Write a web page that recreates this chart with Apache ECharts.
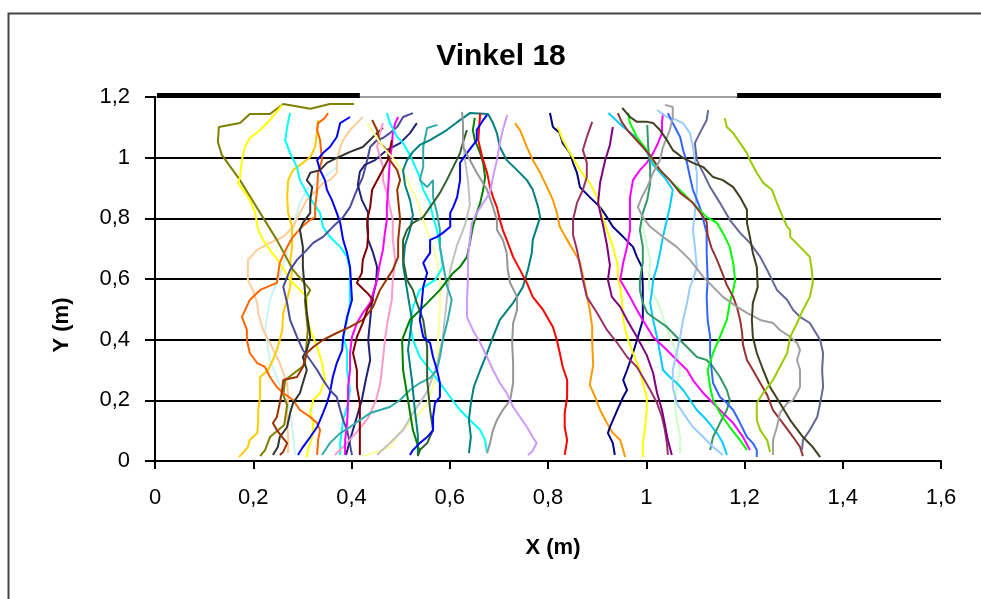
<!DOCTYPE html>
<html>
<head>
<meta charset="utf-8">
<script src="https://cdn.jsdelivr.net/npm/echarts@6/dist/echarts.min.js"></script>
<style>
  html, body { margin: 0; padding: 0; background: #fff; }
  #chart { width: 981px; height: 599px; }
</style>
</head>
<body>
<div id="chart"></div>
<script>
// Walking trajectories, X and Y in metres
const chartTitle = 'Vinkel 18';
const xTicks = [0, 0.2, 0.4, 0.6, 0.8, 1.0, 1.2, 1.4, 1.6];
const yTicks = [0, 0.2, 0.4, 0.6, 0.8, 1.0, 1.2];

// Wall segments at the top edge (openings between them)
const wallLeft = [[0.004, 1.21], [0.417, 1.21]];
const wallRight = [[1.185, 1.21], [1.6, 1.21]];

const pathOlive = [[0.405,1.177],[0.356,1.177],[0.316,1.161],[0.261,1.177],[0.234,1.144],[0.193,1.144],[0.173,1.114],[0.130,1.101],[0.128,1.052],[0.136,1.009],[0.173,0.926],[0.214,0.818],[0.248,0.729],[0.281,0.630],[0.316,0.564],[0.305,0.531],[0.311,0.432],[0.305,0.317],[0.265,0.267],[0.261,0.218],[0.269,0.185],[0.263,0.119],[0.234,0.079],[0.224,0.036],[0.214,0.016]];
const pathYellow = [[0.259,1.174],[0.234,1.124],[0.214,1.091],[0.193,1.065],[0.183,1.035],[0.177,0.992],[0.173,0.936],[0.169,0.917],[0.179,0.894],[0.193,0.861],[0.204,0.818],[0.210,0.762],[0.220,0.729],[0.234,0.696],[0.254,0.653],[0.275,0.597],[0.289,0.574],[0.309,0.541],[0.309,0.488],[0.316,0.432],[0.330,0.376],[0.340,0.323],[0.346,0.267],[0.336,0.224],[0.322,0.201],[0.316,0.158],[0.322,0.125],[0.320,0.079],[0.311,0.036],[0.309,0.013]];
const pathGold = [[0.171,0.013],[0.189,0.046],[0.193,0.069],[0.208,0.092],[0.210,0.125],[0.210,0.168],[0.214,0.211],[0.214,0.277],[0.230,0.300],[0.240,0.333],[0.248,0.366],[0.254,0.399],[0.259,0.432],[0.261,0.488],[0.269,0.531],[0.275,0.574],[0.279,0.630],[0.275,0.653],[0.279,0.706],[0.279,0.772],[0.271,0.818],[0.269,0.870],[0.271,0.926],[0.281,0.959],[0.301,0.983],[0.316,1.002],[0.326,1.035],[0.330,1.091],[0.332,1.124]];
const pathCyanA = [[0.275,1.147],[0.269,1.101],[0.265,1.058],[0.275,1.015],[0.289,0.969],[0.295,0.926],[0.309,0.884],[0.322,0.851],[0.336,0.818],[0.342,0.772],[0.356,0.739],[0.377,0.706],[0.391,0.673],[0.397,0.630],[0.397,0.521],[0.391,0.465],[0.383,0.409],[0.391,0.366],[0.391,0.300],[0.397,0.234],[0.393,0.191],[0.383,0.135],[0.377,0.059],[0.377,0.020]];
const pathOrangeA = [[0.352,1.147],[0.346,1.131],[0.332,1.114],[0.330,1.091],[0.336,1.058],[0.340,0.992],[0.332,0.950],[0.330,0.894],[0.326,0.837],[0.326,0.804],[0.316,0.795],[0.299,0.772],[0.281,0.739],[0.269,0.706],[0.254,0.653],[0.248,0.587],[0.214,0.564],[0.193,0.531],[0.177,0.475],[0.187,0.432],[0.187,0.399],[0.193,0.356],[0.208,0.323],[0.224,0.310],[0.234,0.277],[0.248,0.244],[0.261,0.224],[0.281,0.201],[0.295,0.168],[0.316,0.145],[0.330,0.125],[0.336,0.102],[0.332,0.069],[0.330,0.020]];
const pathTan = [[0.423,1.134],[0.411,1.114],[0.397,1.091],[0.383,1.058],[0.377,1.035],[0.370,0.983],[0.370,0.950],[0.356,0.926],[0.342,0.917],[0.330,0.894],[0.309,0.861],[0.295,0.818],[0.281,0.772],[0.261,0.739],[0.234,0.719],[0.208,0.696],[0.189,0.663],[0.189,0.597],[0.199,0.564],[0.208,0.521],[0.210,0.488],[0.220,0.432],[0.234,0.389],[0.244,0.356],[0.254,0.323],[0.261,0.290],[0.269,0.257],[0.271,0.211],[0.269,0.168],[0.269,0.125],[0.271,0.079],[0.271,0.026]];
const pathBlueA = [[0.397,1.134],[0.377,1.114],[0.370,1.068],[0.356,1.035],[0.342,1.015],[0.330,0.992],[0.336,0.959],[0.346,0.926],[0.350,0.894],[0.360,0.861],[0.370,0.818],[0.377,0.785],[0.383,0.729],[0.391,0.686],[0.397,0.640],[0.401,0.531],[0.391,0.475],[0.383,0.409],[0.381,0.366],[0.370,0.323],[0.362,0.277],[0.356,0.224],[0.350,0.191],[0.342,0.158],[0.330,0.112],[0.316,0.079],[0.301,0.046],[0.291,0.020]];
const pathBlack = [[0.464,1.098],[0.452,1.081],[0.423,1.035],[0.397,1.019],[0.370,0.999],[0.350,0.983],[0.336,0.959],[0.316,0.950],[0.309,0.926],[0.320,0.903],[0.316,0.861],[0.316,0.818],[0.301,0.785],[0.295,0.762],[0.301,0.706],[0.301,0.640],[0.305,0.564],[0.309,0.488],[0.316,0.409],[0.309,0.366],[0.301,0.343],[0.309,0.300],[0.301,0.257],[0.295,0.224],[0.281,0.191],[0.275,0.158],[0.269,0.112],[0.254,0.079],[0.250,0.046],[0.240,0.020]];
const pathIndigo = [[0.525,1.147],[0.505,1.134],[0.493,1.101],[0.478,1.081],[0.464,1.065],[0.452,1.058],[0.438,1.035],[0.432,0.992],[0.423,0.936],[0.411,0.894],[0.397,0.837],[0.383,0.804],[0.362,0.772],[0.342,0.739],[0.322,0.719],[0.309,0.696],[0.289,0.663],[0.275,0.630],[0.261,0.574],[0.269,0.521],[0.275,0.465],[0.289,0.409],[0.301,0.366],[0.316,0.333],[0.330,0.300],[0.342,0.267],[0.356,0.234],[0.370,0.211],[0.377,0.168],[0.383,0.135],[0.391,0.102],[0.397,0.053],[0.401,0.020]];
const pathNavyA = [[0.533,1.114],[0.519,1.081],[0.499,1.048],[0.472,1.025],[0.448,0.992],[0.427,0.976],[0.417,0.953],[0.413,0.910],[0.421,0.861],[0.434,0.818],[0.432,0.772],[0.434,0.729],[0.444,0.686],[0.452,0.640],[0.450,0.587],[0.442,0.531],[0.438,0.465],[0.434,0.399],[0.438,0.333],[0.429,0.267],[0.421,0.201],[0.409,0.135],[0.397,0.069],[0.389,0.020]];
const pathPink = [[0.464,1.114],[0.458,1.081],[0.452,1.035],[0.458,1.002],[0.464,0.969],[0.464,0.926],[0.472,0.884],[0.478,0.837],[0.484,0.795],[0.484,0.729],[0.489,0.663],[0.484,0.597],[0.482,0.531],[0.474,0.465],[0.468,0.399],[0.464,0.333],[0.458,0.251],[0.450,0.201],[0.434,0.142],[0.411,0.096],[0.387,0.053],[0.366,0.020]];
const pathMagentaA = [[0.495,1.134],[0.489,1.114],[0.484,1.081],[0.482,1.035],[0.478,0.992],[0.476,0.936],[0.474,0.884],[0.472,0.837],[0.472,0.795],[0.468,0.752],[0.464,0.696],[0.458,0.653],[0.452,0.597],[0.438,0.521],[0.423,0.488],[0.411,0.455],[0.401,0.409],[0.397,0.356],[0.397,0.300],[0.393,0.244],[0.393,0.191],[0.391,0.125],[0.387,0.069],[0.387,0.020]];
const pathBrownA = [[0.442,1.124],[0.452,1.091],[0.458,1.048],[0.472,1.025],[0.478,0.992],[0.493,0.959],[0.499,0.926],[0.493,0.894],[0.495,0.861],[0.499,0.795],[0.495,0.729],[0.495,0.673],[0.484,0.630],[0.458,0.564],[0.444,0.508],[0.423,0.465],[0.397,0.442],[0.370,0.422],[0.342,0.399],[0.322,0.376],[0.309,0.356],[0.301,0.310],[0.289,0.277],[0.261,0.267],[0.259,0.234],[0.254,0.191],[0.248,0.145],[0.240,0.125],[0.248,0.102],[0.259,0.079],[0.269,0.059],[0.261,0.030],[0.254,0.020]];
const pathMaroon = [[0.482,1.058],[0.474,0.992],[0.458,0.943],[0.442,0.894],[0.438,0.837],[0.432,0.795],[0.434,0.752],[0.432,0.706],[0.423,0.663],[0.421,0.620],[0.411,0.587],[0.432,0.554],[0.444,0.531],[0.432,0.498],[0.423,0.455],[0.411,0.409],[0.403,0.356],[0.411,0.300],[0.411,0.244],[0.417,0.191],[0.417,0.135],[0.417,0.069],[0.417,0.020]];
const pathTurquoise = [[0.370,0.969],[0.350,0.943],[0.330,0.917],[0.309,0.894],[0.295,0.851],[0.285,0.795],[0.275,0.729],[0.265,0.663],[0.250,0.597],[0.234,0.531],[0.224,0.432],[0.234,0.333],[0.254,0.251],[0.275,0.168],[0.281,0.086],[0.285,0.020]];
const pathPaleYellow = [[0.432,1.114],[0.464,1.035],[0.493,0.983],[0.513,0.926],[0.533,0.861],[0.546,0.795],[0.560,0.729],[0.574,0.663],[0.580,0.597],[0.580,0.498],[0.576,0.399],[0.574,0.300],[0.566,0.244],[0.554,0.191],[0.539,0.158],[0.519,0.125],[0.499,0.096],[0.478,0.046],[0.452,0.030],[0.423,0.016]];
const pathCyanB = [[0.472,1.147],[0.478,1.114],[0.493,1.068],[0.505,1.048],[0.519,1.009],[0.539,0.936],[0.546,0.894],[0.560,0.851],[0.566,0.804],[0.574,0.762],[0.580,0.706],[0.586,0.640],[0.570,0.597],[0.539,0.564],[0.525,0.508],[0.519,0.455],[0.525,0.399],[0.539,0.343],[0.560,0.300],[0.580,0.257],[0.601,0.211],[0.621,0.168],[0.641,0.135],[0.662,0.102],[0.672,0.069],[0.676,0.026]];
const pathTeal = [[0.639,0.026],[0.643,0.079],[0.639,0.135],[0.643,0.191],[0.649,0.244],[0.662,0.300],[0.676,0.356],[0.688,0.409],[0.702,0.465],[0.729,0.521],[0.749,0.574],[0.759,0.630],[0.767,0.686],[0.769,0.729],[0.784,0.804],[0.780,0.837],[0.769,0.894],[0.757,0.926],[0.737,0.959],[0.716,0.992],[0.702,1.035],[0.696,1.081],[0.688,1.114],[0.678,1.144],[0.641,1.147],[0.615,1.117],[0.594,1.091],[0.560,1.058],[0.539,1.042],[0.525,1.019],[0.513,0.992],[0.505,0.959],[0.509,0.910],[0.519,0.861],[0.525,0.811],[0.519,0.762],[0.509,0.712],[0.505,0.646],[0.513,0.564],[0.523,0.465],[0.515,0.366],[0.523,0.267],[0.529,0.168],[0.535,0.086],[0.535,0.020]];
const pathAqua = [[0.340,0.020],[0.356,0.059],[0.377,0.092],[0.397,0.112],[0.417,0.135],[0.438,0.158],[0.458,0.168],[0.478,0.178],[0.499,0.201],[0.519,0.234],[0.539,0.257],[0.560,0.274],[0.574,0.300],[0.580,0.343],[0.586,0.399],[0.596,0.465],[0.604,0.531],[0.594,0.580],[0.586,0.653],[0.580,0.706],[0.580,0.762],[0.574,0.818],[0.566,0.870],[0.566,0.926],[0.554,0.903],[0.539,0.926],[0.546,0.969],[0.546,1.035],[0.554,1.098],[0.575,1.108]];
const pathDarkGreen = [[0.635,1.091],[0.627,1.052],[0.621,1.015],[0.607,0.969],[0.594,0.926],[0.580,0.884],[0.560,0.837],[0.546,0.804],[0.525,0.785],[0.513,0.762],[0.505,0.729],[0.505,0.663],[0.513,0.597],[0.525,0.564],[0.533,0.521],[0.546,0.465],[0.554,0.376],[0.554,0.267],[0.560,0.168],[0.566,0.102],[0.554,0.059],[0.539,0.036],[0.535,0.016]];
const pathGreen = [[0.651,1.131],[0.647,1.091],[0.651,1.058],[0.662,1.015],[0.668,0.983],[0.672,0.936],[0.668,0.894],[0.662,0.851],[0.655,0.818],[0.647,0.772],[0.641,0.719],[0.635,0.673],[0.621,0.640],[0.607,0.620],[0.580,0.564],[0.550,0.514],[0.519,0.465],[0.503,0.399],[0.505,0.300],[0.515,0.201],[0.525,0.102],[0.539,0.030]];
const pathRed = [[0.662,1.147],[0.658,1.058],[0.666,1.002],[0.676,0.950],[0.682,0.903],[0.688,0.870],[0.696,0.837],[0.702,0.795],[0.708,0.762],[0.716,0.729],[0.729,0.673],[0.743,0.630],[0.757,0.587],[0.769,0.541],[0.790,0.498],[0.810,0.442],[0.818,0.399],[0.824,0.356],[0.830,0.310],[0.839,0.267],[0.839,0.211],[0.834,0.158],[0.834,0.112],[0.839,0.069],[0.834,0.020]];
const pathBlueB = [[0.676,1.141],[0.668,1.124],[0.655,1.091],[0.655,1.058],[0.635,1.015],[0.621,0.983],[0.621,0.926],[0.615,0.870],[0.607,0.837],[0.601,0.818],[0.601,0.772],[0.586,0.752],[0.574,0.739],[0.560,0.729],[0.560,0.686],[0.546,0.653],[0.554,0.620],[0.546,0.574],[0.543,0.521],[0.539,0.465],[0.546,0.409],[0.560,0.389],[0.566,0.343],[0.574,0.300],[0.580,0.257],[0.580,0.211],[0.570,0.191],[0.566,0.145],[0.566,0.102],[0.554,0.079],[0.539,0.059],[0.525,0.036],[0.519,0.020]];
const pathGrayA = [[0.625,1.151],[0.627,1.114],[0.627,1.035],[0.641,0.992],[0.655,0.950],[0.676,0.894],[0.688,0.837],[0.696,0.795],[0.696,0.762],[0.708,0.729],[0.716,0.686],[0.718,0.630],[0.723,0.587],[0.737,0.541],[0.737,0.498],[0.729,0.455],[0.727,0.389],[0.729,0.323],[0.729,0.257],[0.723,0.201],[0.708,0.168],[0.696,0.135],[0.688,0.102],[0.682,0.059],[0.676,0.026]];
const pathSilver = [[0.452,0.020],[0.478,0.059],[0.505,0.102],[0.525,0.158],[0.554,0.228],[0.574,0.317],[0.586,0.409],[0.594,0.531],[0.601,0.630],[0.615,0.712],[0.631,0.778],[0.641,0.844],[0.637,0.926],[0.631,0.992],[0.627,1.075]];
const pathLavender = [[0.717,1.141],[0.708,1.091],[0.702,1.048],[0.696,0.992],[0.688,0.936],[0.682,0.884],[0.668,0.851],[0.655,0.818],[0.645,0.785],[0.641,0.729],[0.637,0.673],[0.637,0.597],[0.635,0.531],[0.635,0.475],[0.647,0.432],[0.662,0.389],[0.676,0.343],[0.688,0.300],[0.702,0.257],[0.716,0.224],[0.729,0.178],[0.743,0.145],[0.757,0.112],[0.769,0.079],[0.777,0.059],[0.767,0.030],[0.759,0.020]];
const pathOrangeB = [[0.733,1.114],[0.743,1.091],[0.749,1.068],[0.757,1.035],[0.769,0.992],[0.784,0.950],[0.798,0.903],[0.810,0.861],[0.818,0.818],[0.824,0.772],[0.839,0.729],[0.851,0.696],[0.865,0.656],[0.875,0.580],[0.885,0.498],[0.890,0.442],[0.890,0.389],[0.892,0.317],[0.885,0.251],[0.896,0.211],[0.906,0.168],[0.920,0.125],[0.932,0.092],[0.947,0.069],[0.953,0.036],[0.957,0.013]];
const pathNavyB = [[0.804,1.147],[0.810,1.101],[0.824,1.081],[0.830,1.048],[0.845,1.015],[0.851,0.983],[0.859,0.950],[0.865,0.903],[0.885,0.870],[0.906,0.837],[0.920,0.804],[0.932,0.772],[0.953,0.739],[0.973,0.706],[0.981,0.673],[0.991,0.640],[0.993,0.574],[0.993,0.521],[0.993,0.465],[0.983,0.409],[0.973,0.356],[0.961,0.300],[0.953,0.267],[0.961,0.234],[0.953,0.211],[0.941,0.168],[0.926,0.112],[0.922,0.092],[0.932,0.059],[0.936,0.020]];
const pathYellowB = [[0.820,1.101],[0.830,1.058],[0.845,1.015],[0.865,0.959],[0.885,0.917],[0.900,0.870],[0.906,0.828],[0.920,0.762],[0.932,0.706],[0.941,0.653],[0.943,0.597],[0.947,0.574],[0.951,0.521],[0.953,0.465],[0.961,0.409],[0.973,0.356],[0.987,0.300],[0.993,0.257],[1.001,0.211],[1.001,0.168],[0.997,0.102],[0.993,0.059],[0.993,0.013]];
const pathPlum = [[0.890,1.118],[0.879,1.068],[0.871,1.025],[0.879,0.983],[0.879,0.936],[0.871,0.894],[0.859,0.851],[0.851,0.795],[0.851,0.745],[0.859,0.696],[0.865,0.646],[0.871,0.597],[0.879,0.541],[0.900,0.488],[0.920,0.432],[0.941,0.389],[0.961,0.343],[0.981,0.310],[0.993,0.277],[1.008,0.234],[1.022,0.191],[1.032,0.145],[1.038,0.102],[1.042,0.059],[1.044,0.020]];
const pathPurple = [[0.932,1.101],[0.926,1.042],[0.916,0.989],[0.906,0.917],[0.902,0.851],[0.912,0.778],[0.920,0.712],[0.926,0.646],[0.922,0.597],[0.930,0.541],[0.947,0.508],[0.961,0.465],[0.981,0.409],[1.001,0.349],[1.014,0.290],[1.022,0.224],[1.032,0.168],[1.038,0.119],[1.044,0.069],[1.052,0.020]];
const pathMagentaB = [[1.034,1.147],[1.032,1.114],[1.032,1.081],[1.024,1.048],[1.014,1.015],[1.001,0.983],[0.987,0.959],[0.973,0.926],[0.967,0.870],[0.967,0.818],[0.967,0.762],[0.961,0.706],[0.953,0.653],[0.947,0.597],[0.967,0.541],[0.981,0.498],[0.993,0.465],[1.014,0.409],[1.042,0.366],[1.062,0.333],[1.083,0.300],[1.095,0.267],[1.116,0.224],[1.136,0.191],[1.156,0.158],[1.177,0.125],[1.197,0.079],[1.211,0.036]];
const pathMint = [[0.987,0.811],[0.999,0.729],[1.008,0.663],[1.005,0.574],[1.024,0.521],[1.036,0.465],[1.048,0.409],[1.062,0.356],[1.069,0.300],[1.062,0.244],[1.058,0.191],[1.062,0.135],[1.069,0.079],[1.069,0.026]];
const pathSky = [[0.923,1.147],[0.953,1.101],[0.981,1.065],[1.001,1.019],[1.014,0.976],[1.038,0.933],[1.054,0.894],[1.048,0.837],[1.042,0.795],[1.034,0.739],[1.028,0.686],[1.022,0.640],[1.014,0.597],[1.012,0.564],[1.008,0.521],[1.014,0.465],[1.022,0.409],[1.028,0.356],[1.034,0.300],[1.048,0.277],[1.062,0.257],[1.075,0.234],[1.089,0.201],[1.103,0.168],[1.123,0.135],[1.144,0.092],[1.156,0.059],[1.164,0.020]];
const pathBrownB = [[0.942,1.147],[0.950,1.118],[0.963,1.088],[0.993,1.035],[1.012,0.999],[1.028,0.959],[1.048,0.926],[1.069,0.884],[1.093,0.854],[1.109,0.821],[1.123,0.788],[1.125,0.745],[1.133,0.702],[1.144,0.663],[1.154,0.623],[1.164,0.580],[1.177,0.541],[1.185,0.505],[1.191,0.465],[1.195,0.425],[1.197,0.382],[1.205,0.333],[1.217,0.300],[1.232,0.257],[1.246,0.218],[1.258,0.168],[1.278,0.125],[1.299,0.079],[1.313,0.046],[1.319,0.016]];
const pathLime = [[0.963,1.147],[0.967,1.114],[0.981,1.068],[1.001,1.025],[1.022,0.969],[1.042,0.936],[1.062,0.903],[1.083,0.870],[1.103,0.837],[1.123,0.804],[1.144,0.785],[1.156,0.752],[1.170,0.706],[1.177,0.653],[1.181,0.597],[1.177,0.564],[1.170,0.521],[1.164,0.465],[1.150,0.409],[1.136,0.356],[1.125,0.300],[1.130,0.244],[1.136,0.201],[1.150,0.158],[1.170,0.112],[1.191,0.069],[1.205,0.036]];
const pathSeaGreen = [[1.002,1.108],[1.004,1.035],[1.008,0.969],[1.008,0.917],[1.002,0.861],[0.993,0.818],[0.987,0.762],[0.993,0.706],[0.993,0.653],[0.987,0.597],[0.987,0.564],[0.993,0.521],[1.002,0.488],[1.022,0.465],[1.042,0.442],[1.062,0.409],[1.083,0.376],[1.103,0.343],[1.123,0.333],[1.136,0.310],[1.150,0.277],[1.164,0.234],[1.170,0.201],[1.164,0.168],[1.150,0.125],[1.136,0.079],[1.130,0.036]];
const pathGrayB = [[1.038,1.174],[1.054,1.167],[1.054,1.134],[1.048,1.091],[1.034,1.035],[1.028,0.992],[1.014,0.950],[1.002,0.903],[0.991,0.870],[0.983,0.837],[0.993,0.804],[1.008,0.772],[1.034,0.739],[1.062,0.706],[1.089,0.663],[1.116,0.607],[1.136,0.574],[1.156,0.541],[1.185,0.508],[1.205,0.488],[1.232,0.465],[1.258,0.455],[1.272,0.432],[1.293,0.409],[1.307,0.389],[1.313,0.366],[1.307,0.333],[1.313,0.300],[1.313,0.244],[1.299,0.201],[1.287,0.191],[1.272,0.158],[1.266,0.112],[1.258,0.069],[1.258,0.020]];
const pathPaleBlue = [[1.022,1.157],[1.042,1.134],[1.062,1.124],[1.075,1.114],[1.089,1.081],[1.095,1.035],[1.099,0.992],[1.103,0.950],[1.103,0.894],[1.099,0.818],[1.095,0.762],[1.099,0.706],[1.103,0.640],[1.095,0.597],[1.089,0.574],[1.083,0.521],[1.075,0.465],[1.069,0.409],[1.062,0.356],[1.054,0.300],[1.054,0.244],[1.062,0.191],[1.075,0.158],[1.095,0.112],[1.116,0.079],[1.136,0.046],[1.156,0.020]];
const pathRoyal = [[1.044,1.147],[1.054,1.114],[1.069,1.068],[1.075,1.025],[1.083,0.983],[1.089,0.936],[1.095,0.894],[1.109,0.837],[1.116,0.795],[1.123,0.752],[1.123,0.686],[1.125,0.597],[1.123,0.541],[1.125,0.465],[1.130,0.409],[1.130,0.356],[1.133,0.300],[1.136,0.257],[1.150,0.211],[1.164,0.191],[1.177,0.168],[1.191,0.125],[1.205,0.079],[1.217,0.059],[1.225,0.036],[1.225,0.013]];
const pathSlate = [[1.126,1.157],[1.123,1.124],[1.109,1.081],[1.099,1.048],[1.103,0.992],[1.116,0.950],[1.130,0.903],[1.150,0.851],[1.170,0.795],[1.191,0.752],[1.211,0.719],[1.232,0.673],[1.246,0.630],[1.266,0.564],[1.287,0.531],[1.299,0.498],[1.313,0.475],[1.333,0.455],[1.354,0.399],[1.360,0.356],[1.358,0.300],[1.360,0.244],[1.354,0.191],[1.348,0.145],[1.333,0.102],[1.319,0.069],[1.317,0.036]];
const pathDarkOlive = [[0.951,1.164],[0.967,1.134],[0.981,1.118],[1.002,1.118],[1.014,1.114],[1.028,1.091],[1.042,1.058],[1.054,1.025],[1.075,0.999],[1.095,0.983],[1.116,0.969],[1.136,0.936],[1.156,0.926],[1.177,0.903],[1.191,0.870],[1.205,0.828],[1.205,0.785],[1.211,0.739],[1.217,0.686],[1.225,0.640],[1.227,0.574],[1.217,0.521],[1.215,0.465],[1.217,0.409],[1.225,0.356],[1.238,0.300],[1.252,0.244],[1.272,0.191],[1.293,0.135],[1.319,0.079],[1.339,0.046],[1.354,0.013]];
const pathYellowGreen = [[1.160,1.131],[1.164,1.101],[1.177,1.081],[1.191,1.048],[1.205,1.015],[1.211,0.992],[1.225,0.950],[1.238,0.917],[1.256,0.894],[1.266,0.851],[1.278,0.804],[1.287,0.772],[1.293,0.762],[1.293,0.739],[1.313,0.706],[1.333,0.673],[1.337,0.630],[1.339,0.587],[1.333,0.541],[1.319,0.498],[1.307,0.455],[1.293,0.409],[1.287,0.356],[1.272,0.310],[1.258,0.267],[1.238,0.224],[1.225,0.191],[1.225,0.135],[1.232,0.102],[1.246,0.069],[1.252,0.030]];

// Each trajectory paired with its stroke colour, in drawing order
const trajectories = [
  [pathTurquoise, '#c8f4f4'], [pathTan, '#ffcc99'], [pathGold, '#ffcc00'], [pathOlive, '#808000'],
  [pathYellow, '#ffff00'], [pathCyanA, '#00ffff'], [pathOrangeA, '#ff6600'], [pathBlueA, '#0000ff'],
  [pathBlack, '#333333'], [pathIndigo, '#4b4b9c'], [pathNavyA, '#22227a'], [pathPink, '#ff99cc'],
  [pathMagentaA, '#ff00ff'], [pathBrownA, '#993300'], [pathMaroon, '#800000'], [pathPaleYellow, '#ffff99'],
  [pathCyanB, '#00ffff'], [pathSilver, '#c0c0c0'], [pathAqua, '#33aaaa'], [pathTeal, '#008080'],
  [pathDarkGreen, '#2f5f2f'], [pathGreen, '#008000'], [pathRed, '#ff0000'], [pathBlueB, '#0000ff'],
  [pathGrayA, '#969696'], [pathLavender, '#cc99ff'], [pathOrangeB, '#ff9900'], [pathNavyB, '#000080'],
  [pathYellowB, '#ffff00'], [pathPlum, '#993366'], [pathPurple, '#800080'], [pathMint, '#ccffcc'],
  [pathSky, '#00ccff'], [pathMagentaB, '#ff00ff'], [pathSeaGreen, '#339966'], [pathPaleBlue, '#99ccff'],
  [pathRoyal, '#3366ff'], [pathLime, '#00ff00'], [pathBrownB, '#993333'], [pathGrayB, '#a0a0a0'],
  [pathSlate, '#666699'], [pathDarkOlive, '#404020'], [pathYellowGreen, '#99cc00']
];

const fmt = v => String(Math.round(v * 10) / 10).replace('.', ',');
const FONT = '"Liberation Sans", Arial, sans-serif';

const series = trajectories.map(([data, color]) => ({
  type: 'line', data, showSymbol: false, symbol: 'none', silent: true,
  lineStyle: { color, width: 2 }, z: 2
}));
[wallLeft, wallRight].forEach(data => series.push({
  type: 'line', data, showSymbol: false, symbol: 'none', silent: true,
  lineStyle: { color: '#000', width: 8, cap: 'butt' }, z: 5
}));

const chart = echarts.init(document.getElementById('chart'), null, { renderer: 'canvas' });
chart.setOption({
  animation: false,
  backgroundColor: '#fff',
  grid: { left: 155, right: 40, top: 97, bottom: 138, containLabel: false },
  xAxis: {
    type: 'value', min: xTicks[0], max: xTicks[xTicks.length - 1], interval: 0.2,
    axisLine: { show: true, onZero: false, lineStyle: { color: '#000', width: 2 } },
    axisTick: { show: true, inside: false, length: 8, lineStyle: { color: '#000', width: 2 } },
    axisLabel: { formatter: fmt, color: '#000', fontFamily: FONT, fontSize: 22, margin: 26 },
    splitLine: { show: false }
  },
  yAxis: {
    type: 'value', min: yTicks[0], max: yTicks[yTicks.length - 1], interval: 0.2,
    axisLine: { show: true, lineStyle: { color: '#000', width: 2 } },
    axisTick: { show: true, inside: false, length: 10, lineStyle: { color: '#000', width: 2 } },
    axisLabel: { formatter: fmt, color: '#000', fontFamily: FONT, fontSize: 22, margin: 25 },
    splitLine: { show: true, lineStyle: { color: ['#000', '#000', '#000', '#000', '#000', '#000', '#a0a0a0'], width: 2 } }
  },
  graphic: [
    { type: 'rect', left: 6, top: 11, shape: { width: 1000, height: 700 }, style: { fill: 'none', stroke: '#444', lineWidth: 2 }, z: 100 },
    { type: 'text', x: 501, y: 57, style: { text: chartTitle, fill: '#000', font: 'bold 30px ' + FONT, textAlign: 'center', textVerticalAlign: 'middle' }, z: 100 },
    { type: 'text', x: 553, y: 548, style: { text: 'X (m)', fill: '#000', font: 'bold 22px ' + FONT, textAlign: 'center', textVerticalAlign: 'middle' }, z: 100 },
    { type: 'text', x: 62, y: 325, rotation: Math.PI / 2, style: { text: 'Y (m)', fill: '#000', font: 'bold 22px ' + FONT, textAlign: 'center', textVerticalAlign: 'middle' }, z: 100 }
  ],
  series
});
</script>
</body>
</html>
